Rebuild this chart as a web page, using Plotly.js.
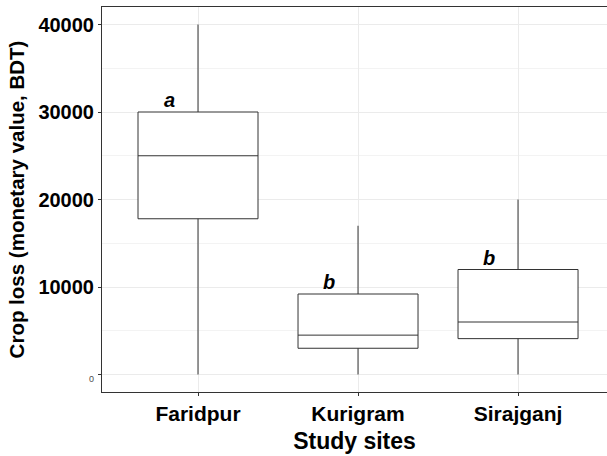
<!DOCTYPE html>
<html>
<head>
<meta charset="utf-8">
<script src="https://cdn.plot.ly/plotly-3.0.1.min.js"></script>
<style>html,body{margin:0;padding:0;background:#fff;}</style>
</head>
<body>
<div id="chart" style="width:607px;height:456px;"></div>
<script>
// Data
const sites = ["Faridpur", "Kurigram", "Sirajganj"];
const lowerWhisker = [0, 0, 0];
const q1Values = [17800, 3000, 4100];
const medianValues = [25000, 4500, 6000];
const q3Values = [30000, 9200, 12000];
const upperWhisker = [40000, 17000, 20000];
const groupLetters = ["a", "b", "b"];
const yTickValues = [0, 10000, 20000, 30000, 40000];
const yTickLabels = ["0", "10000", "20000", "30000", "40000"];

const FONT = "Liberation Sans, Arial, Helvetica, sans-serif";

const trace = {
  type: "box",
  x: sites,
  q1: q1Values,
  median: medianValues,
  q3: q3Values,
  lowerfence: lowerWhisker,
  upperfence: upperWhisker,
  width: 0.75,
  whiskerwidth: 0,
  fillcolor: "#ffffff",
  line: {color: "#333333", width: 1},
  boxpoints: false,
  hoverinfo: "skip",
  showlegend: false
};

const letterOffset = -0.18;
const annotations = groupLetters.map((t, i) => ({
  x: i + letterOffset,
  y: q3Values[i],
  xref: "x", yref: "y",
  text: t,
  showarrow: false,
  xanchor: "center",
  yanchor: "bottom",
  yshift: -1,
  font: {family: FONT, size: 20, color: "#000000", weight: "bold", style: "italic"}
}));

const tickText = yTickLabels.map((t, i) =>
  i === 0 ? '<span style="font-size:9px;font-weight:normal;color:#4d4d4d">' + t + '</span>' : t);

const layout = {
  width: 607,
  height: 456,
  margin: {l: 102, r: 0, t: 7, b: 64},
  paper_bgcolor: "#ffffff",
  plot_bgcolor: "#ffffff",
  showlegend: false,
  xaxis: {
    type: "category",
    range: [-0.6, 2.556],
    showgrid: true,
    gridcolor: "#EBEBEB",
    gridwidth: 1,
    zeroline: false,
    showline: true,
    linecolor: "#333333",
    linewidth: 1,
    mirror: true,
    ticks: "outside",
    ticklen: 3,
    tickcolor: "#333333",
    tickfont: {family: FONT, size: 21, color: "#000000", weight: "bold"},
    title: {text: "Study sites", standoff: 8,
            font: {family: FONT, size: 23, color: "#000000", weight: "bold"}}
  },
  yaxis: {
    range: [-2000, 42000],
    tickvals: yTickValues,
    ticktext: tickText,
    showgrid: true,
    gridcolor: "#EBEBEB",
    gridwidth: 1,
    minor: {dtick: 5000, showgrid: true, gridcolor: "#F3F3F3", gridwidth: 1},
    zeroline: false,
    showline: true,
    linecolor: "#333333",
    linewidth: 1,
    mirror: false,
    ticks: "outside",
    ticklen: 3,
    tickcolor: "#333333",
    tickfont: {family: FONT, size: 20, color: "#000000", weight: "bold"},
    title: {text: "Crop loss (monetary value, BDT)", standoff: 8,
            font: {family: FONT, size: 20.5, color: "#000000", weight: "bold"}}
  },
  annotations: annotations
};

Plotly.newPlot("chart", [trace], layout, {staticPlot: true, displayModeBar: false});
</script>
</body>
</html>
